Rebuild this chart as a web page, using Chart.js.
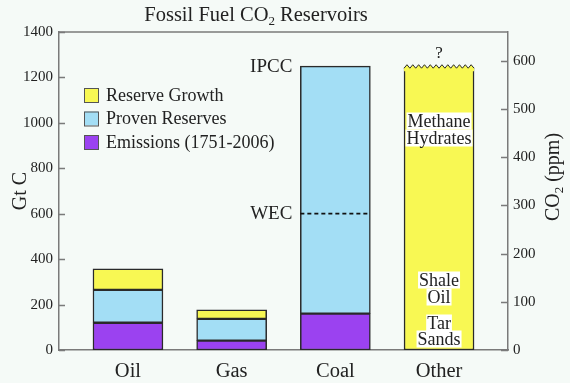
<!DOCTYPE html>
<html>
<head>
<meta charset="utf-8">
<script src="https://cdn.jsdelivr.net/npm/chart.js@4/dist/chart.umd.min.js"></script>
<style>
  html, body { margin: 0; padding: 0; background: #f5faf7; }
  #wrap { width: 570px; height: 383px; }
</style>
</head>
<body>
<div id="wrap"><canvas id="chart" width="570" height="383"></canvas></div>
<script>
// categories and values (Gt C)
const categories = ["Oil", "Gas", "Coal", "Other"];
const emissions = [120, 41, 160, null];
const provenReserves = [145, 96, 1090, null];
const reserveGrowth = [92, 40, null, null];
const otherReservoirs = [null, null, null, 1245];
const wecLevel = 600;
const leftTicks = [0, 200, 400, 600, 800, 1000, 1200, 1400];
const rightTicks = [0, 100, 200, 300, 400, 500, 600];

const YELLOW = "#f8f853";
const BLUE = "#a3def5";
const PURPLE = "#9b42f0";
const EDGE = "#2a2a2a";
const FRAME = "#7a7a7a";
const SERIF = "'Liberation Serif', 'DejaVu Serif', serif";

// draws frame, inward ticks, labels, legend and annotations
const decorations = {
    id: "decorations",
    afterDraw(chart) {
        const ctx = chart.ctx;
        const area = chart.chartArea;
        const y = chart.scales.y;
        const y2 = chart.scales.y2;
        ctx.save();

        // top frame line
        ctx.strokeStyle = FRAME;
        ctx.lineWidth = 1.5;
        ctx.beginPath();
        ctx.moveTo(area.left, area.top);
        ctx.lineTo(area.right, area.top);
        ctx.stroke();

        // inward tick marks
        ctx.beginPath();
        leftTicks.forEach(v => {
            const py = Math.round(y.getPixelForValue(v)) + 0.5;
            ctx.moveTo(area.left, py);
            ctx.lineTo(area.left + 6, py);
        });
        rightTicks.forEach(v => {
            const py = Math.round(y2.getPixelForValue(v)) + 0.5;
            ctx.moveTo(area.right, py);
            ctx.lineTo(area.right - 7, py);
        });
        ctx.stroke();

        // zigzag top on the "Other" bar
        const otherMeta = chart.getDatasetMeta(3);
        const bar = otherMeta.data[3];
        if (bar) {
            const left = bar.x - bar.width / 2;
            const right = bar.x + bar.width / 2;
            const top = bar.y;
            const teeth = 12;
            const step = (right - left) / teeth;
            ctx.beginPath();
            ctx.moveTo(left, top + 1);
            for (let i = 0; i < teeth; i++) {
                ctx.lineTo(left + step * (i + 0.5), top - 2.5);
                ctx.lineTo(left + step * (i + 1), top + 1);
            }
            ctx.lineTo(right, top + 4);
            ctx.lineTo(left, top + 4);
            ctx.closePath();
            ctx.fillStyle = YELLOW;
            ctx.fill();
            ctx.beginPath();
            ctx.moveTo(left, top + 1);
            for (let i = 0; i < teeth; i++) {
                ctx.lineTo(left + step * (i + 0.5), top - 2.5);
                ctx.lineTo(left + step * (i + 1), top + 1);
            }
            ctx.strokeStyle = EDGE;
            ctx.lineWidth = 1;
            ctx.stroke();
            ctx.fillStyle = "#222";
            ctx.font = "17px " + SERIF;
            ctx.textAlign = "center";
            ctx.textBaseline = "middle";
            ctx.fillText("?", bar.x, top - 14);

            // labelled regions inside the bar
            const boxed = [["Methane", 121], ["Hydrates", 138], ["Shale", 280], ["Oil", 297], ["Tar", 323], ["Sands", 339]];
            ctx.font = "18px " + SERIF;
            boxed.forEach(([t, py]) => {
                const w = ctx.measureText(t).width;
                ctx.fillStyle = "#ffffff";
                ctx.fillRect(bar.x - w / 2 - 1, py - 8.5, w + 2, 17);
            });
            ctx.fillStyle = "#222";
            boxed.forEach(([t, py]) => ctx.fillText(t, bar.x, py + 1));
        }

        // WEC dashed line across the coal bar
        const coal = chart.getDatasetMeta(1).data[2];
        const wy = y.getPixelForValue(wecLevel);
        ctx.setLineDash([4, 3]);
        ctx.strokeStyle = "#111";
        ctx.lineWidth = 1.8;
        ctx.beginPath();
        ctx.moveTo(coal.x - coal.width / 2, wy);
        ctx.lineTo(coal.x + coal.width / 2, wy);
        ctx.stroke();
        ctx.setLineDash([]);

        ctx.fillStyle = "#222";
        ctx.font = "19px " + SERIF;
        ctx.textAlign = "right";
        ctx.textBaseline = "middle";
        ctx.fillText("WEC", coal.x - coal.width / 2 - 8, wy);
        const coalTop = chart.getDatasetMeta(1).data[2].y;
        ctx.fillText("IPCC", coal.x - coal.width / 2 - 8, coalTop + 1);

        // legend
        const legendRows = [
            ["Reserve Growth", YELLOW],
            ["Proven Reserves", BLUE],
            ["Emissions (1751-2006)", PURPLE]
        ];
        ctx.font = "18px " + SERIF;
        ctx.textAlign = "left";
        legendRows.forEach(([label, color], i) => {
            const cy = 95 + i * 23.5;
            ctx.fillStyle = color;
            ctx.fillRect(84, cy - 7, 14, 14);
            ctx.strokeStyle = "#555";
            ctx.lineWidth = 1;
            ctx.strokeRect(84.5, cy - 6.5, 14, 14);
            ctx.fillStyle = "#222";
            ctx.fillText(label, 106, cy + 1);
        });

        // title with subscript
        ctx.textBaseline = "alphabetic";
        const t1 = "Fossil Fuel CO";
        const t2 = " Reservoirs";
        ctx.font = "20.5px " + SERIF;
        const w1 = ctx.measureText(t1).width;
        const w3 = ctx.measureText(t2).width;
        ctx.font = "13px " + SERIF;
        const w2 = ctx.measureText("2").width;
        let tx = 256 - (w1 + w2 + w3) / 2;
        ctx.font = "20.5px " + SERIF;
        ctx.fillText(t1, tx, 21);
        ctx.font = "13px " + SERIF;
        ctx.fillText("2", tx + w1, 25);
        ctx.font = "20.5px " + SERIF;
        ctx.fillText(t2, tx + w1 + w2, 21);

        // axis titles
        ctx.save();
        ctx.translate(19, 191);
        ctx.rotate(-Math.PI / 2);
        ctx.textAlign = "center";
        ctx.font = "20px " + SERIF;
        ctx.fillText("Gt C", 0, 7);
        ctx.restore();

        ctx.save();
        ctx.translate(552, 177);
        ctx.rotate(-Math.PI / 2);
        ctx.font = "20px " + SERIF;
        const a = "CO", b = " (ppm)";
        const wa = ctx.measureText(a).width;
        const wb = ctx.measureText(b).width;
        ctx.font = "13px " + SERIF;
        const ws = ctx.measureText("2").width;
        let ax = -(wa + ws + wb) / 2;
        ctx.textAlign = "left";
        ctx.font = "20px " + SERIF;
        ctx.fillText(a, ax, 7);
        ctx.font = "13px " + SERIF;
        ctx.fillText("2", ax + wa, 11);
        ctx.font = "20px " + SERIF;
        ctx.fillText(b, ax + wa + ws, 7);
        ctx.restore();

        ctx.restore();
    }
};

const barStyle = { borderColor: EDGE, borderWidth: 1.5, borderSkipped: false, barThickness: 70 };

new Chart(document.getElementById("chart"), {
    type: "bar",
    data: {
        labels: categories,
        datasets: [
            Object.assign({ label: "Emissions (1751-2006)", data: emissions.map((v, i) => ({ x: i, y: v })), backgroundColor: PURPLE }, barStyle),
            Object.assign({ label: "Proven Reserves", data: provenReserves.map((v, i) => ({ x: i, y: v })), backgroundColor: BLUE }, barStyle),
            Object.assign({ label: "Reserve Growth", data: reserveGrowth.map((v, i) => ({ x: i, y: v })), backgroundColor: YELLOW }, barStyle),
            Object.assign({ label: "Other", data: otherReservoirs.map((v, i) => ({ x: i, y: v })), backgroundColor: YELLOW }, barStyle, { borderSkipped: "top" })
        ]
    },
    options: {
        responsive: false,
        animation: false,
        layout: { padding: { top: 32, left: 0, right: 0, bottom: 0 } },
        plugins: { legend: { display: false }, title: { display: false }, tooltip: { enabled: false } },
        scales: {
            x: {
                type: "linear",
                stacked: true,
                offset: false,
                min: -0.665,
                max: 3.665,
                afterBuildTicks: s => { s.ticks = categories.map((c, i) => ({ value: i })); },
                afterFit: s => { s.height = 33; },
                grid: { display: false, offset: false },
                border: { display: true, color: FRAME, width: 1.5 },
                ticks: {
                    autoSkip: false,
                    maxRotation: 0,
                    padding: 1,
                    color: "#222",
                    font: { family: SERIF, size: 20.5 },
                    callback: v => categories[v] || ""
                }
            },
            y: {
                stacked: true,
                position: "left",
                min: 0,
                max: 1400,
                afterFit: s => { s.width = 59; },
                afterBuildTicks: s => { s.ticks = leftTicks.map(v => ({ value: v })); },
                grid: { display: false, drawTicks: false },
                border: { display: true, color: FRAME, width: 1.5 },
                ticks: { padding: 6, color: "#222", font: { family: SERIF, size: 15 }, callback: v => String(v) }
            },
            y2: {
                position: "right",
                min: 0,
                max: 660,
                afterFit: s => { s.width = 62; },
                afterBuildTicks: s => { s.ticks = rightTicks.map(v => ({ value: v })); },
                grid: { display: false, drawTicks: false },
                border: { display: true, color: FRAME, width: 1.5 },
                ticks: { padding: 5, color: "#222", font: { family: SERIF, size: 15 }, callback: v => String(v) }
            }
        }
    },
    plugins: [decorations]
});
</script>
</body>
</html>
